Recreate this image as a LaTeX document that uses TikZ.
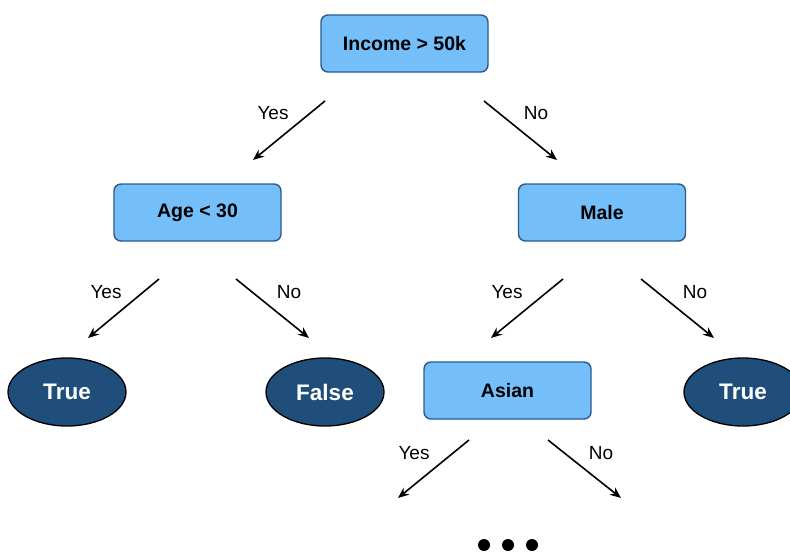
\documentclass[tikz,border=0pt]{standalone}
\usepackage{fontspec}
\setmainfont{Liberation Sans}
\usetikzlibrary{arrows.meta,shapes.geometric}
\definecolor{boxfill}{HTML}{74BFF9}
\definecolor{boxedge}{HTML}{2B5A8C}
\definecolor{leaffill}{HTML}{1F4E7A}
\tikzset{
  test/.style={draw=boxedge, fill=boxfill, line width=1.4pt, rounded corners=7pt,
    minimum width=167pt, minimum height=57pt, inner sep=0pt,
    font=\fontsize{19.5}{22}\selectfont\bfseries},
  leaf/.style={ellipse, draw=black, fill=leaffill, line width=1.3pt,
    minimum width=118pt, minimum height=68pt, inner sep=0pt, text=white,
    font=\fontsize{22.5}{26}\selectfont\bfseries},
  branch/.style={-{Stealth[length=11pt,width=9pt]}, line width=1.6pt},
  lbl/.style={font=\fontsize{19}{22}\selectfont, inner sep=0pt},
  dot/.style={circle, fill=black, minimum size=12pt, inner sep=0pt}
}
\begin{document}
\begin{tikzpicture}[x=1pt,y=-1pt]
\useasboundingbox (0,0) rectangle (790,552);

% decision nodes
\node[test] (income) at (404.5,43.5) {Income > 50k};
\node[test] (age)    at (197.5,212.5) {Age < 30};
\node[test] (male)   at (602,212.5) {Male};
\node[test] (asian)  at (507.5,390.5) {Asian};

% leaves
\node[leaf] (t1) at (67,392) {True};
\node[leaf] (f1) at (325,392) {False};
\node[leaf] (t2) at (743,392) {True};

% branch arrow end points
\coordinate (iy0) at (325,101); \coordinate (iy1) at (253,160);
\coordinate (in0) at (484,101); \coordinate (in1) at (557,160);
\coordinate (ay0) at (159,279); \coordinate (ay1) at (88,338);
\coordinate (an0) at (236,279); \coordinate (an1) at (309,338);
\coordinate (my0) at (563,279); \coordinate (my1) at (491,338);
\coordinate (mn0) at (641,279); \coordinate (mn1) at (714,338);
\coordinate (sy0) at (469,440); \coordinate (sy1) at (398,498);
\coordinate (sn0) at (548,440); \coordinate (sn1) at (621,498);

\draw[branch] (iy0) -- (iy1);
\draw[branch] (in0) -- (in1);
\draw[branch] (ay0) -- (ay1);
\draw[branch] (an0) -- (an1);
\draw[branch] (my0) -- (my1);
\draw[branch] (mn0) -- (mn1);
\draw[branch] (sy0) -- (sy1);
\draw[branch] (sn0) -- (sn1);

% branch labels
\node[lbl] (liy) at (273,113) {Yes};
\node[lbl] (lin) at (536,113) {No};
\node[lbl] (lay) at (106,292) {Yes};
\node[lbl] (lan) at (289,292) {No};
\node[lbl] (lmy) at (507,292) {Yes};
\node[lbl] (lmn) at (695,292) {No};
\node[lbl] (lsy) at (414,453) {Yes};
\node[lbl] (lsn) at (601,453) {No};

% continuation dots
\node[dot] (d1) at (484,545) {};
\node[dot] (d2) at (508,545) {};
\node[dot] (d3) at (532,545) {};
\end{tikzpicture}
\end{document}
